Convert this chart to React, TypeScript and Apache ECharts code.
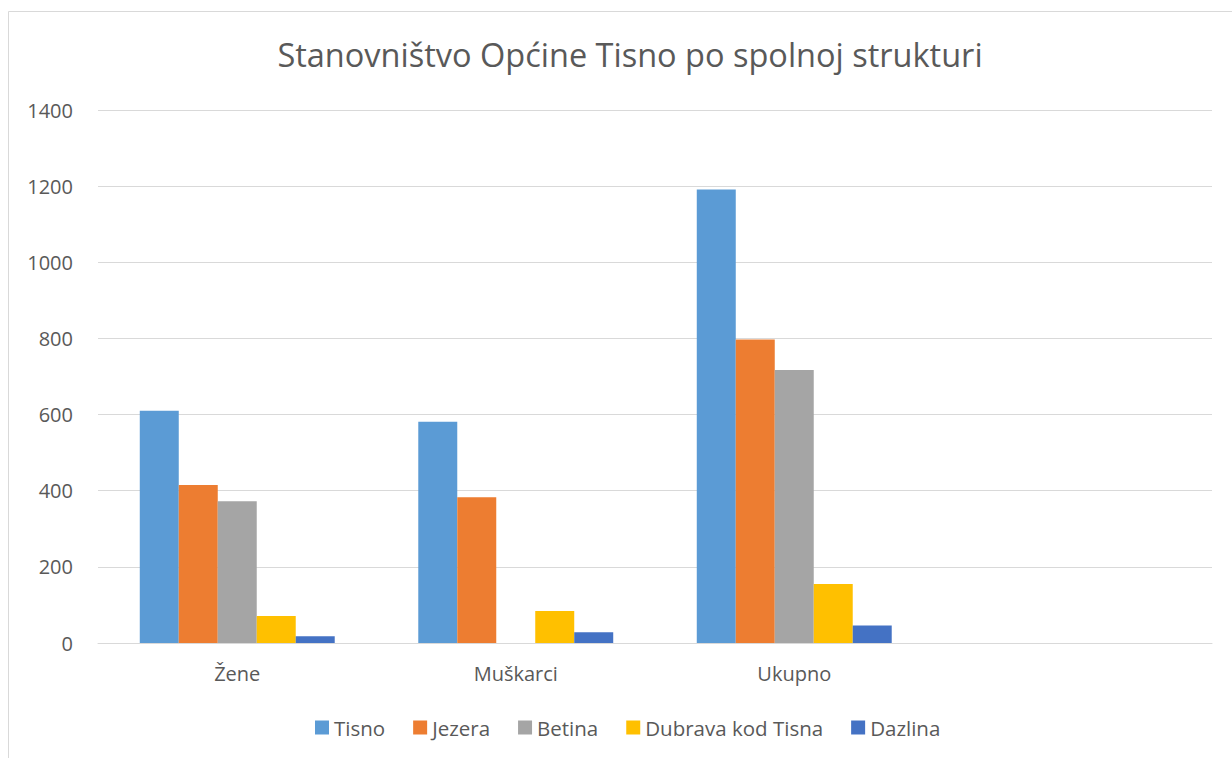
import React, { useEffect, useRef } from "react";
import * as echarts from "echarts";

const categories = ["Žene", "Muškarci", "Ukupno", ""];
const tisno = [610, 581, 1191, null];
const jezera = [415, 383, 797, null];
const betina = [372, null, 717, null];
const dubrava = [71, 84, 155, null];
const dazlina = [18, 28, 46, null];

const seriesNames = ["Tisno", "Jezera", "Betina", "Dubrava kod Tisna", "Dazlina"];
const seriesData = [tisno, jezera, betina, dubrava, dazlina];
const colors = ["#5B9BD5", "#ED7D31", "#A5A5A5", "#FFC000", "#4472C4"];

const FONT = "Open Sans";
const TXT = "#595959";

export default function App() {
  const ref = useRef<HTMLDivElement>(null);
  useEffect(() => {
    if (!ref.current) return;
    const chart = echarts.init(ref.current, null, { renderer: "svg" });
    chart.setOption({
      animation: false,
      backgroundColor: "#ffffff",
      textStyle: { fontFamily: FONT },
      title: {
        text: "Stanovništvo Općine Tisno po spolnoj strukturi",
        left: 625,
        top: 33,
        textAlign: "center",
        textStyle: { fontFamily: FONT, fontSize: 32.5, fontWeight: "normal", color: TXT },
      },
      graphic: [
        {
          type: "rect",
          shape: { x: 8.5, y: 11.5, width: 1300, height: 800 },
          style: { fill: "none", stroke: "#D9D9D9", lineWidth: 1 },
          silent: true,
        },
      ],
      legend: {
        left: 310,
        top: 712,
        icon: "rect",
        itemWidth: 14,
        itemHeight: 14,
        itemGap: 28,
        textStyle: { fontFamily: FONT, fontSize: 20.5, color: TXT, padding: [0, 0, 0, 0] },
        data: seriesNames,
      },
      grid: { left: 98, right: 20, top: 110, bottom: 115, containLabel: false },
      xAxis: {
        type: "category",
        data: categories,
        axisLine: { lineStyle: { color: "#D9D9D9", width: 1 } },
        axisTick: { show: false },
        axisLabel: { fontFamily: FONT, fontSize: 20, color: TXT, margin: 20 },
      },
      yAxis: {
        type: "value",
        min: 0,
        max: 1400,
        interval: 200,
        axisLine: { show: false },
        axisTick: { show: false },
        splitLine: { lineStyle: { color: "#D9D9D9", width: 1 } },
        axisLabel: {
          fontFamily: FONT,
          fontSize: 20,
          color: TXT,
          margin: 25,
          formatter: (v: number) => String(v),
        },
      },
      series: seriesNames.map((name, i) => ({
        name,
        type: "bar",
        data: seriesData[i],
        barGap: "0%",
        barCategoryGap: "30%",
        itemStyle: { color: colors[i] },
      })),
    });
    return () => chart.dispose();
  }, []);
  return (
    <div
      ref={ref}
      style={{ position: "absolute", left: 0, top: 0, width: 1232, height: 758 }}
    />
  );
}
